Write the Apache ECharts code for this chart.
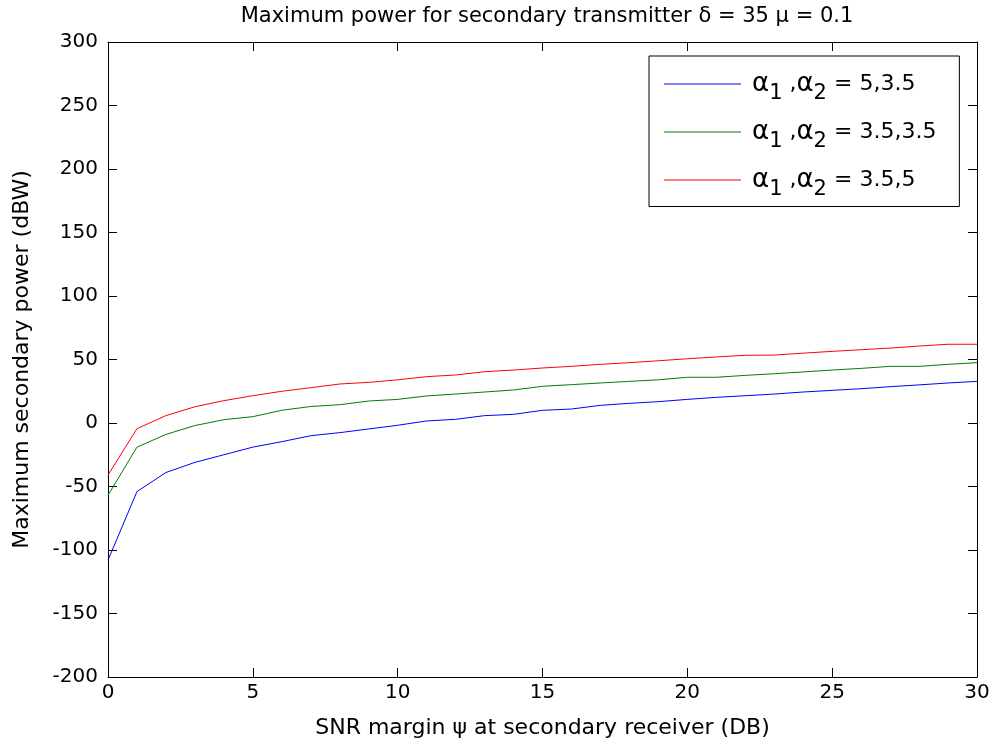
<!DOCTYPE html>
<html>
<head>
<meta charset="utf-8">
<script src="https://cdn.jsdelivr.net/npm/echarts@6/dist/echarts.min.js"></script>
<style>
  html, body { margin: 0; padding: 0; background: #fff; }
  #chart { width: 995px; height: 749px; }
</style>
</head>
<body>
<div id="chart"></div>
<script>
var snr = [];
for (var i = 0; i <= 30; i++) snr.push(i);

var blue = [-108, -54, -39, -31, -25, -19, -14.7, -10, -7.6, -4.7, -1.8, 1.6, 2.9, 5.8, 6.8, 10, 11, 13.9, 15.5, 16.8, 18.6, 20.2, 21.5, 22.8, 24.4, 25.7, 27, 28.6, 30, 31.5, 32.8];
var green = [-57, -19, -9, -2, 2.6, 5, 10, 13, 14.4, 17.3, 18.6, 21.3, 22.8, 24.4, 26, 28.9, 30.2, 31.5, 32.8, 34, 36, 36, 37.5, 38.8, 40.2, 41.7, 43, 44.6, 44.6, 46.2, 47.5];
var red = [-41, -4.5, 5.8, 12.8, 17.6, 21.5, 25, 27.8, 30.7, 32, 34, 36.5, 37.8, 40.4, 41.7, 43.3, 44.6, 46.2, 47.5, 49, 50.6, 52, 53.3, 53.5, 55, 56.4, 57.7, 59, 60.6, 62, 62];

var names = ['a1', 'a2', 'a3'];
var labels = {
  a1: '{g|α}{s|1}{t| ,}{g|α}{s|2}{t| = 5,3.5}',
  a2: '{g|α}{s|1}{t| ,}{g|α}{s|2}{t| = 3.5,3.5}',
  a3: '{g|α}{s|1}{t| ,}{g|α}{s|2}{t| = 3.5,5}'
};

var font = 'DejaVu Sans, Arial, sans-serif';
var chart = echarts.init(document.getElementById('chart'));

function pairs(ys) {
  return ys.map(function (y, i) { return [snr[i], y]; });
}

function ticks() {
  return { show: true, inside: true, length: 9, lineStyle: { color: '#000', width: 1 } };
}
function line() {
  return { show: true, onZero: false, lineStyle: { color: '#000', width: 1 } };
}

chart.setOption({
  backgroundColor: '#fff',
  animation: false,
  title: {
    text: 'Maximum power for secondary transmitter δ = 35 μ = 0.1',
    left: 542, top: 1, textAlign: 'center',
    textStyle: { fontFamily: font, fontSize: 21, fontWeight: 'normal', color: '#000' }
  },
  legend: {
    orient: 'vertical',
    left: 649, top: 56,
    data: names,
    icon: 'rect',
    backgroundColor: '#fff',
    borderColor: '#000', borderWidth: 1,
    padding: [15, 23, 6, 15],
    itemWidth: 77, itemHeight: 1, itemGap: 14.5,
    formatter: function (n) { return labels[n]; },
    textStyle: {
      fontFamily: font, fontSize: 22, color: '#000', padding: [0, 0, 0, 6],
      rich: {
        t: { fontFamily: font, fontSize: 22, color: '#000' },
        g: { fontFamily: font, fontSize: 26, color: '#000' },
        s: { fontFamily: font, fontSize: 21, color: '#000', padding: [20, 0, 0, 0] }
      }
    }
  },
  grid: { left: 108, right: 18, top: 42, bottom: 72, show: false },
  xAxis: [{
    type: 'value', min: 0, max: 30, interval: 5,
    name: 'SNR margin ψ at secondary receiver (DB)',
    nameLocation: 'middle', nameGap: 40,
    nameTextStyle: { fontFamily: font, fontSize: 22, color: '#000' },
    axisLine: line(),
    axisTick: ticks(),
    axisLabel: { fontFamily: font, fontSize: 20, color: '#000', margin: 6 },
    splitLine: { show: false }
  }, {
    type: 'value', min: 0, max: 30, interval: 5, position: 'top',
    axisLine: line(),
    axisTick: ticks(), axisLabel: { show: false }, splitLine: { show: false }
  }],
  yAxis: [{
    type: 'value', min: -200, max: 300, interval: 50,
    name: 'Maximum secondary power (dBW)',
    nameLocation: 'middle', nameGap: 75, nameRotate: 90,
    nameTextStyle: { fontFamily: font, fontSize: 22, color: '#000' },
    axisLine: line(),
    axisTick: ticks(),
    axisLabel: { fontFamily: font, fontSize: 20, color: '#000', margin: 10 },
    splitLine: { show: false }
  }, {
    type: 'value', min: -200, max: 300, interval: 50, position: 'right',
    axisLine: line(),
    axisTick: ticks(), axisLabel: { show: false }, splitLine: { show: false }
  }],
  series: [
    { name: 'a1', type: 'line', data: pairs(blue), symbol: 'none', lineStyle: { color: '#0000ff', width: 1 }, itemStyle: { color: '#0000ff' } },
    { name: 'a2', type: 'line', data: pairs(green), symbol: 'none', lineStyle: { color: '#008000', width: 1 }, itemStyle: { color: '#008000' } },
    { name: 'a3', type: 'line', data: pairs(red), symbol: 'none', lineStyle: { color: '#ff0000', width: 1 }, itemStyle: { color: '#ff0000' } }
  ]
});
</script>
</body>
</html>
